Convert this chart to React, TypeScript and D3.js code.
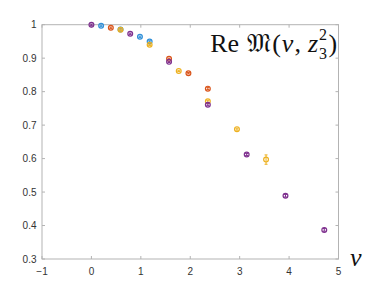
import React from "react";
import * as d3 from "d3";

// series: [nu, value, error]
const blueData: [number, number, number][] = [
  [0.196, 0.997, 0.002],
  [0.589, 0.986, 0.002],
  [0.982, 0.964, 0.002],
  [1.178, 0.95, 0.002],
];
const orangeData: [number, number, number][] = [
  [0.393, 0.991, 0.002],
  [1.571, 0.898, 0.002],
  [1.963, 0.855, 0.002],
  [2.356, 0.809, 0.003],
];
const yellowData: [number, number, number][] = [
  [0.589, 0.985, 0.002],
  [1.178, 0.94, 0.002],
  [1.767, 0.862, 0.002],
  [2.356, 0.771, 0.003],
  [2.945, 0.688, 0.003],
  [3.534, 0.597, 0.014],
];
const purpleData: [number, number, number][] = [
  [0, 1.0, 0.002],
  [0.785, 0.973, 0.002],
  [1.571, 0.889, 0.002],
  [2.356, 0.761, 0.003],
  [3.142, 0.612, 0.003],
  [3.927, 0.489, 0.004],
  [4.712, 0.387, 0.004],
];

const xTicks = [-1, 0, 1, 2, 3, 4, 5];
const yTicks = [0.3, 0.4, 0.5, 0.6, 0.7, 0.8, 0.9, 1];

const seriesList = [
  { data: blueData, color: "#2f8fd8" },
  { data: orangeData, color: "#D95319" },
  { data: yellowData, color: "#EDB120" },
  { data: purpleData, color: "#7E2F8E" },
];

const W = 382;
const H = 287;
const left = 42,
  right = 338.5,
  top = 24.7,
  bottom = 259;

export default function App() {
  const x = d3.scaleLinear().domain([-1, 5]).range([left, right]);
  const y = d3.scaleLinear().domain([0.3, 1]).range([bottom, top]);
  const axisColor = "#b3b3b3";
  const tickLen = 3;
  const serif = "Liberation Serif, DejaVu Serif, serif";

  return (
    <svg
      width={W}
      height={H}
      style={{ position: "absolute", left: 0, top: 0, background: "#fff" }}
    >
      {/* box */}
      <rect
        x={left}
        y={top}
        width={right - left}
        height={bottom - top}
        fill="none"
        stroke={axisColor}
        strokeWidth={1}
      />
      {/* x ticks */}
      {xTicks.map((t) => (
        <g key={"x" + t}>
          <line x1={x(t)} x2={x(t)} y1={bottom} y2={bottom - tickLen} stroke={axisColor} />
          <line x1={x(t)} x2={x(t)} y1={top} y2={top + tickLen} stroke={axisColor} />
          <text
            x={x(t)}
            y={275}
            textAnchor="middle"
            fontFamily="Liberation Sans, Arial, sans-serif"
            fontSize={10}
            fill="#333"
          >
            {d3.format("d")(t)}
          </text>
        </g>
      ))}
      {/* y ticks */}
      {yTicks.map((t) => (
        <g key={"y" + t}>
          <line x1={left} x2={left + tickLen} y1={y(t)} y2={y(t)} stroke={axisColor} />
          <line x1={right} x2={right - tickLen} y1={y(t)} y2={y(t)} stroke={axisColor} />
          <text
            x={36.5}
            y={y(t) + 3.5}
            textAnchor="end"
            fontFamily="Liberation Sans, Arial, sans-serif"
            fontSize={10}
            fill="#333"
          >
            {t === 1 ? "1" : d3.format(".1f")(t)}
          </text>
        </g>
      ))}
      {/* data */}
      {seriesList.map((s, si) => (
        <g key={"s" + si} stroke={s.color} fill="none" strokeWidth={1.2}>
          {s.data.map(([nu, v, e], i) => (
            <g key={i}>
              <line x1={x(nu)} x2={x(nu)} y1={y(v - e)} y2={y(v + e)} strokeWidth={1} />
              <line x1={x(nu) - 1.5} x2={x(nu) + 1.5} y1={y(v - e)} y2={y(v - e)} strokeWidth={1} />
              <line x1={x(nu) - 1.5} x2={x(nu) + 1.5} y1={y(v + e)} y2={y(v + e)} strokeWidth={1} />
              <circle cx={x(nu)} cy={y(v)} r={2.4} />
            </g>
          ))}
        </g>
      ))}
      {/* label */}
      <text x={318} y={52} textAnchor="end" fontFamily={serif} fontSize={26} fill="#111">
        <tspan>Re</tspan>
        <tspan dx={8} fontFamily="DejaVu Serif, DejaVu Sans, serif">𝔐</tspan>
        <tspan dx={1}>(</tspan>
        <tspan dx={1} fontStyle="italic">ν</tspan>
        <tspan dx={1}>,</tspan>
        <tspan dx={7} fontStyle="italic">z</tspan>
      </text>
      <text x={319} y={40} fontFamily={serif} fontSize={16} fill="#111">2</text>
      <text x={319} y={59} fontFamily={serif} fontSize={16} fill="#111">3</text>
      <text x={328.5} y={52} fontFamily={serif} fontSize={26} fill="#111">)</text>
      <text x={350} y={266} fontFamily={serif} fontStyle="italic" fontSize={26} fill="#111">
        ν
      </text>
    </svg>
  );
}
